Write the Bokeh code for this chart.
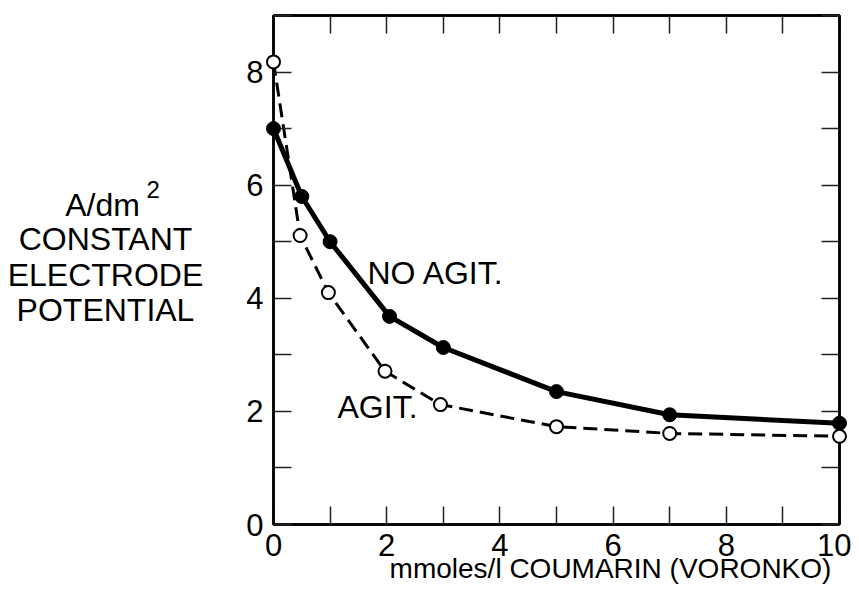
from bokeh.plotting import figure
from bokeh.models import Range1d, LinearAxis, FixedTicker
from bokeh.core.properties import value
from bokeh.embed import file_html
from bokeh.resources import INLINE

# ---- data ----
x_ticks = [0, 1, 2, 3, 4, 5, 6, 7, 8, 9, 10]
x_tick_labels = {0: "0", 1: "", 2: "2", 3: "", 4: "4", 5: "", 6: "6", 7: "", 8: "8", 9: "", 10: "10"}
y_ticks = [0, 1, 2, 3, 4, 5, 6, 7, 8, 9]
y_tick_labels = {0: "0", 1: "", 2: "2", 3: "", 4: "4", 5: "", 6: "6", 7: "", 8: "8", 9: ""}

no_agit_x = [0, 0.5, 1.0, 2.05, 3.0, 5.0, 7.0, 10.0]
no_agit_y = [7.0, 5.8, 5.0, 3.68, 3.13, 2.35, 1.94, 1.79]
agit_x = [0, 0.47, 0.97, 1.97, 2.95, 5.0, 7.0, 10.0]
agit_y = [8.18, 5.11, 4.1, 2.71, 2.12, 1.73, 1.61, 1.56]

y_title_lines = ["A/dm", "CONSTANT", "ELECTRODE", "POTENTIAL"]
x_title = "mmoles/l COUMARIN (VORONKO)"

FONT = "Liberation Sans"

W, H = 851, 584
LEFT, TOP, RIGHT, BOTTOM = 273, 15, 12, 60
X0, X1, Y0, Y1 = 0, 10, 0, 9
FRAME_W = W - LEFT - RIGHT
FRAME_H = H - TOP - BOTTOM

p = figure(width=W, height=H, x_range=Range1d(X0, X1), y_range=Range1d(Y0, Y1),
           output_backend="svg", toolbar_location=None,
           min_border_left=LEFT, min_border_right=RIGHT, min_border_top=TOP, min_border_bottom=BOTTOM)
p.grid.visible = False
p.outline_line_color = "black"
p.outline_line_width = 2.5
p.background_fill_color = "white"
p.border_fill_color = "white"


def style_axis(ax, ticks, overrides, show_labels, standoff):
    ax.ticker = FixedTicker(ticks=ticks, minor_ticks=[])
    ax.major_tick_in = 18
    ax.major_tick_out = 0
    ax.minor_tick_in = 0
    ax.minor_tick_out = 0
    ax.major_tick_line_color = "#222222"
    ax.major_tick_line_width = 1.5
    ax.axis_line_color = "black"
    ax.axis_line_width = 2.5
    ax.major_label_overrides = overrides
    ax.major_label_standoff = standoff
    ax.major_label_text_font = FONT
    ax.major_label_text_color = "black"
    ax.major_label_text_font_size = "31px" if show_labels else "0px"


style_axis(p.xaxis[0], x_ticks, x_tick_labels, True, 9)
style_axis(p.yaxis[0], y_ticks, y_tick_labels, True, 10)

top = LinearAxis()
style_axis(top, x_ticks, {t: "" for t in x_ticks}, False, 0)
p.add_layout(top, "above")
right = LinearAxis()
style_axis(right, y_ticks, {t: "" for t in y_ticks}, False, 0)
p.add_layout(right, "right")

# curves
p.line(no_agit_x, no_agit_y, line_color="black", line_width=5)
p.line(agit_x, agit_y, line_color="black", line_width=3, line_dash="14 7")
p.scatter(no_agit_x, no_agit_y, size=14, fill_color="black", line_color="black", level="overlay")
p.scatter(agit_x, agit_y, size=13, fill_color="white", line_color="black", line_width=2,
          level="overlay")


# position helpers: picture pixel -> data position (for text placement only)
def dx(px):
    return X0 + (px - LEFT) * (X1 - X0) / FRAME_W


def dy(py):
    return Y0 + (TOP + FRAME_H - py) * (Y1 - Y0) / FRAME_H


def put_text(xs, ys, texts, size, align):
    p.text(x=xs, y=ys, text=texts, text_font=value(FONT), text_font_size=value(size),
           text_align=align, text_baseline="middle", text_color="black", level="overlay")


# curve labels
put_text([dx(367), dx(337)], [dy(272), dy(406)], ["NO AGIT.", "AGIT."], "32px", "left")

# y-axis title block
put_text([dx(102), dx(105), dx(105), dx(105)], [dy(204), dy(238), dy(274), dy(309)],
         y_title_lines, "32px", "center")
put_text([dx(146)], [dy(189)], ["2"], "24px", "left")

# x-axis title
put_text([dx(610)], [dy(568)], [x_title], "28px", "center")

open("out.html", "w").write(file_html(p, INLINE))
